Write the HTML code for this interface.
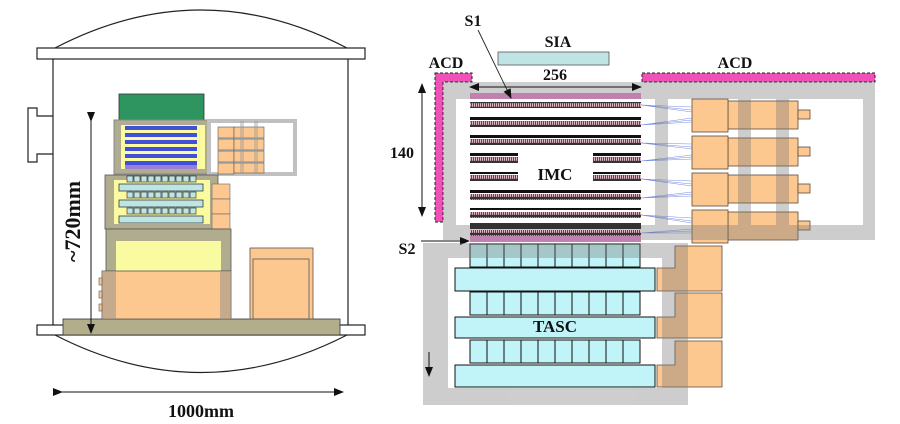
<!DOCTYPE html>
<html><head><meta charset="utf-8"><style>
html,body{margin:0;padding:0;background:#fff;}
svg{display:block;}
text{font-family:"Liberation Serif",serif;font-weight:bold;fill:#111;}
</style></head><body>
<svg width="900" height="424" viewBox="0 0 900 424" xmlns="http://www.w3.org/2000/svg">
<defs>
<marker id="ah" markerWidth="10" markerHeight="8" refX="9" refY="4" orient="auto" markerUnits="userSpaceOnUse"><path d="M0,0 L10,4 L0,8 Z" fill="#111"/></marker>
<pattern id="fib" width="2" height="6" patternUnits="userSpaceOnUse"><rect width="2" height="6" fill="#e0b8c4"/><rect x="0" y="0" width="2" height="1.2" fill="#333"/><rect x="0" y="4.8" width="2" height="1.2" fill="#333"/><rect x="1" y="1" width="1" height="4" fill="#7a3a4a"/></pattern>
</defs>

<!-- ===== LEFT DIAGRAM ===== -->
<path d="M55,48 Q201,-28 347,48" fill="none" stroke="#222" stroke-width="1.2"/>
<rect x="37" y="48" width="328" height="11" fill="#fff" stroke="#222" stroke-width="1.2"/>
<line x1="53" y1="59" x2="53" y2="325" stroke="#222" stroke-width="1.2"/>
<line x1="348" y1="59" x2="348" y2="325" stroke="#222" stroke-width="1.2"/>
<path d="M53,116 H37 V108 H28 V162 H37 V154 H53" fill="none" stroke="#222" stroke-width="1.2"/>
<rect x="37" y="325" width="328" height="10" fill="#fff" stroke="#222" stroke-width="1.2"/>
<path d="M55,335 Q201,410 347,335" fill="none" stroke="#222" stroke-width="1.2"/>
<rect x="63" y="319" width="277" height="16" fill="#b2ae8c" stroke="#333" stroke-width="0.8"/>

<rect x="119" y="94" width="85" height="26" fill="#2e9460" stroke="#333" stroke-width="0.8"/>
<rect x="114" y="120" width="95" height="54" fill="#b0ac90" stroke="#888"/>
<rect x="121" y="125" width="84" height="44" fill="#fafaa0"/>
<g fill="#4050d8">
<rect x="125" y="126" width="72" height="4"/><rect x="125" y="133" width="72" height="4"/><rect x="125" y="140" width="72" height="4"/><rect x="125" y="147" width="72" height="4"/><rect x="125" y="154" width="72" height="4"/><rect x="125" y="161" width="72" height="4"/>
</g>
<rect x="125" y="165" width="72" height="4" fill="#9a80d8"/>
<rect x="209" y="121" width="86" height="53" fill="none" stroke="#c0c0c0" stroke-width="4"/>
<g fill="#fcc890" stroke="#555" stroke-width="0.6">
<rect x="218" y="127" width="16" height="11"/><rect x="234" y="127" width="30" height="11"/>
<rect x="218" y="139" width="16" height="11"/><rect x="234" y="139" width="30" height="11"/>
<rect x="218" y="151" width="16" height="11"/><rect x="234" y="151" width="30" height="11"/>
<rect x="218" y="163" width="16" height="11"/><rect x="234" y="163" width="30" height="10"/>
</g>
<rect x="240" y="121" width="4" height="53" fill="#999" opacity="0.4"/><rect x="254" y="121" width="4" height="53" fill="#999" opacity="0.4"/>
<rect x="105" y="175" width="113" height="54" fill="#b0ac90" stroke="#555" stroke-width="0.8"/>
<rect x="114" y="180" width="96" height="44" fill="#fafaa0"/>
<g fill="#bfe4e4" stroke="#222" stroke-width="0.7">
<rect x="119" y="184" width="84" height="7"/><rect x="119" y="200" width="84" height="7"/><rect x="119" y="216" width="84" height="7"/>
</g>
<g fill="#bfe4e4" stroke="#222" stroke-width="0.6">
<rect x="127" y="176" width="6" height="6"/><rect x="134" y="176" width="6" height="6"/><rect x="141" y="176" width="6" height="6"/><rect x="148" y="176" width="6" height="6"/><rect x="155" y="176" width="6" height="6"/><rect x="162" y="176" width="6" height="6"/><rect x="169" y="176" width="6" height="6"/><rect x="176" y="176" width="6" height="6"/><rect x="183" y="176" width="6" height="6"/><rect x="190" y="176" width="6" height="6"/>
<rect x="127" y="192" width="6" height="6"/><rect x="134" y="192" width="6" height="6"/><rect x="141" y="192" width="6" height="6"/><rect x="148" y="192" width="6" height="6"/><rect x="155" y="192" width="6" height="6"/><rect x="162" y="192" width="6" height="6"/><rect x="169" y="192" width="6" height="6"/><rect x="176" y="192" width="6" height="6"/><rect x="183" y="192" width="6" height="6"/><rect x="190" y="192" width="6" height="6"/>
<rect x="127" y="208" width="6" height="6"/><rect x="134" y="208" width="6" height="6"/><rect x="141" y="208" width="6" height="6"/><rect x="148" y="208" width="6" height="6"/><rect x="155" y="208" width="6" height="6"/><rect x="162" y="208" width="6" height="6"/><rect x="169" y="208" width="6" height="6"/><rect x="176" y="208" width="6" height="6"/><rect x="183" y="208" width="6" height="6"/><rect x="190" y="208" width="6" height="6"/>
</g>
<g fill="#fcc890" stroke="#666" stroke-width="0.6">
<rect x="212" y="184" width="18" height="15"/><rect x="212" y="199" width="18" height="15"/><rect x="212" y="214" width="18" height="15"/>
</g>
<rect x="106" y="229" width="125" height="42" fill="#b0ac90" stroke="#555" stroke-width="0.8"/>
<rect x="116" y="241" width="105" height="30" fill="#fafaa0"/>
<rect x="102" y="271" width="129" height="48" fill="#fcc890" stroke="#555" stroke-width="0.8"/>
<rect x="102" y="271" width="14" height="48" fill="#a09888" opacity="0.6"/><rect x="220" y="271" width="11" height="48" fill="#a09888" opacity="0.6"/>
<g fill="#fcc890" stroke="#555" stroke-width="0.6"><rect x="99" y="278" width="3" height="7"/><rect x="99" y="291" width="3" height="7"/><rect x="99" y="304" width="3" height="7"/></g>
<rect x="250" y="248" width="63" height="71" fill="#fcc890" stroke="#555" stroke-width="0.8"/>
<rect x="253" y="259" width="56" height="60" fill="none" stroke="#555" stroke-width="0.8"/>
<line x1="91" y1="121" x2="91" y2="333" stroke="#111" stroke-width="1" marker-end="url(#ah)" marker-start="url(#ah)"/>
<text x="0" y="0" font-size="22" transform="translate(80,262) rotate(-90)">~720mm</text>
<line x1="62" y1="392" x2="343" y2="392" stroke="#111" stroke-width="1" marker-end="url(#ah)" marker-start="url(#ah)"/>
<text x="201" y="417" font-size="18" text-anchor="middle">1000mm</text>

<!-- ===== RIGHT DIAGRAM ===== -->
<text x="473" y="26" font-size="16" text-anchor="middle">S1</text>
<text x="558" y="47" font-size="16" text-anchor="middle">SIA</text>
<rect x="498" y="52" width="111" height="13" fill="#c0e4e4" stroke="#555" stroke-width="0.8"/>
<text x="446" y="68" font-size="16" text-anchor="middle">ACD</text>
<text x="735" y="68" font-size="16" text-anchor="middle">ACD</text>
<text x="555" y="80" font-size="16" text-anchor="middle">256</text>
<text x="402" y="158" font-size="16" text-anchor="middle">140</text>
<path d="M435,73 H472 V82 H443 V222 H435 Z" fill="#f050b8" stroke="#222" stroke-width="1" stroke-dasharray="3,2"/>
<rect x="642" y="73" width="233" height="9" fill="#f050b8" stroke="#222" stroke-width="1" stroke-dasharray="3,2"/>

<g fill="#fcc890" stroke="#5a4a3a" stroke-width="0.8">
<rect x="728" y="101" width="70" height="28"/><rect x="692" y="99" width="36" height="33"/><rect x="798" y="110" width="12" height="9"/>
<rect x="728" y="138" width="70" height="28"/><rect x="692" y="136" width="36" height="33"/><rect x="798" y="147" width="12" height="9"/>
<rect x="728" y="175" width="70" height="28"/><rect x="692" y="173" width="36" height="33"/><rect x="798" y="184" width="12" height="9"/>
<rect x="728" y="212" width="70" height="28"/><rect x="692" y="210" width="36" height="33"/><rect x="798" y="221" width="12" height="9"/>
</g>
<g stroke="#6078e0" stroke-width="0.6" opacity="0.85">
<path d="M641,105 L692,107 M641,105 L692,112 M641,105 L692,110 M641,125 L692,118 M641,125 L692,122 M641,125 L692,120"/>
<path d="M641,143 L692,144 M641,143 L692,149 M641,143 L692,147 M641,161 L692,155 M641,161 L692,159 M641,161 L692,157"/>
<path d="M641,179 L692,181 M641,179 L692,186 M641,179 L692,184 M641,198 L692,192 M641,198 L692,196 M641,198 L692,194"/>
<path d="M641,215 L692,218 M641,215 L692,223 M641,215 L692,221 M641,233 L692,229 M641,233 L692,233 M641,233 L692,231"/>
</g>
<g fill="#787878" opacity="0.36">
<rect x="443" y="82" width="432" height="17"/>
<rect x="443" y="225" width="432" height="15"/>
<rect x="443" y="99" width="13" height="126"/>
<rect x="863" y="99" width="12" height="126"/>
<rect x="655" y="99" width="13" height="126"/>
<rect x="738" y="99" width="13" height="126"/>
<rect x="776" y="99" width="13" height="126"/>
<rect x="655" y="82" width="13" height="17"/><rect x="738" y="82" width="13" height="17"/><rect x="776" y="82" width="13" height="17"/><rect x="443" y="82" width="13" height="17"/><rect x="863" y="82" width="12" height="17"/>
</g>
<rect x="470" y="93" width="171" height="6" fill="#c080b0"/>
<g fill="url(#fib)">
<rect x="470" y="102" width="171" height="6"/><rect x="470" y="121" width="171" height="6"/><rect x="470" y="139" width="171" height="6"/>
<rect x="470" y="157" width="48" height="6"/><rect x="593" y="157" width="48" height="6"/>
<rect x="470" y="175" width="48" height="6"/><rect x="593" y="175" width="48" height="6"/>
<rect x="470" y="194" width="171" height="6"/><rect x="470" y="212" width="171" height="6"/><rect x="470" y="230" width="171" height="6"/>
</g>
<g fill="#111">
<rect x="470" y="117" width="171" height="3"/><rect x="470" y="135" width="171" height="3"/>
<rect x="470" y="153" width="48" height="3"/><rect x="593" y="153" width="48" height="3"/>
<rect x="470" y="172" width="48" height="2"/><rect x="593" y="172" width="48" height="2"/>
<rect x="470" y="190" width="171" height="3"/><rect x="470" y="208" width="171" height="2"/>
<rect x="470" y="223" width="171" height="6" fill="#333"/>
</g>
<text x="555" y="180" font-size="17" text-anchor="middle">IMC</text>
<rect x="470" y="236" width="171" height="6" fill="#c080b0"/>
<line x1="478" y1="30" x2="511" y2="98" stroke="#222" stroke-width="0.9" marker-end="url(#ah)"/>
<line x1="556" y1="87" x2="470" y2="87" stroke="#111" stroke-width="1" marker-end="url(#ah)"/>
<line x1="556" y1="87" x2="641" y2="87" stroke="#111" stroke-width="1" marker-end="url(#ah)"/>
<line x1="422" y1="150" x2="422" y2="84" stroke="#111" stroke-width="1" marker-end="url(#ah)"/>
<line x1="422" y1="150" x2="422" y2="216" stroke="#111" stroke-width="1" marker-end="url(#ah)"/>
<text x="407" y="254" font-size="16" text-anchor="middle">S2</text>
<line x1="421" y1="241" x2="469" y2="241" stroke="#111" stroke-width="1" marker-end="url(#ah)"/>

<g fill="#fcc890" stroke="#5a4a3a" stroke-width="0.8">
<path d="M675,246 H722 V291 H657 V268 H675 Z"/>
<path d="M675,293 H722 V338 H657 V317 H675 Z"/>
<path d="M675,341 H722 V387 H657 V365 H675 Z"/>
</g>
<g fill="#c0f4f8" stroke="#111" stroke-width="1">
<rect x="455" y="268" width="200" height="23"/><rect x="455" y="317" width="200" height="21"/><rect x="455" y="365" width="200" height="22"/>
</g>
<g fill="#c0f4f8" stroke="#111" stroke-width="1">
<rect x="470" y="244" width="17" height="23"/><rect x="487" y="244" width="17" height="23"/><rect x="504" y="244" width="17" height="23"/><rect x="521" y="244" width="17" height="23"/><rect x="538" y="244" width="17" height="23"/><rect x="555" y="244" width="17" height="23"/><rect x="572" y="244" width="17" height="23"/><rect x="589" y="244" width="17" height="23"/><rect x="606" y="244" width="17" height="23"/><rect x="623" y="244" width="17" height="23"/>
<rect x="470" y="292" width="17" height="23"/><rect x="487" y="292" width="17" height="23"/><rect x="504" y="292" width="17" height="23"/><rect x="521" y="292" width="17" height="23"/><rect x="538" y="292" width="17" height="23"/><rect x="555" y="292" width="17" height="23"/><rect x="572" y="292" width="17" height="23"/><rect x="589" y="292" width="17" height="23"/><rect x="606" y="292" width="17" height="23"/><rect x="623" y="292" width="17" height="23"/>
<rect x="470" y="340" width="17" height="23"/><rect x="487" y="340" width="17" height="23"/><rect x="504" y="340" width="17" height="23"/><rect x="521" y="340" width="17" height="23"/><rect x="538" y="340" width="17" height="23"/><rect x="555" y="340" width="17" height="23"/><rect x="572" y="340" width="17" height="23"/><rect x="589" y="340" width="17" height="23"/><rect x="606" y="340" width="17" height="23"/><rect x="623" y="340" width="17" height="23"/>
</g>
<g fill="#787878" opacity="0.36">
<rect x="423" y="243" width="265" height="15"/>
<rect x="423" y="388" width="265" height="17"/>
<rect x="423" y="258" width="25" height="130"/>
<rect x="662" y="258" width="26" height="130"/>
<rect x="423" y="243" width="25" height="15"/><rect x="662" y="243" width="26" height="15"/>
<rect x="423" y="388" width="25" height="17"/><rect x="662" y="388" width="26" height="17"/>
</g>
<text x="555" y="332" font-size="17" text-anchor="middle">TASC</text>
<line x1="429" y1="352" x2="429" y2="376" stroke="#111" stroke-width="1" marker-end="url(#ah)"/>
</svg>
</body></html>
